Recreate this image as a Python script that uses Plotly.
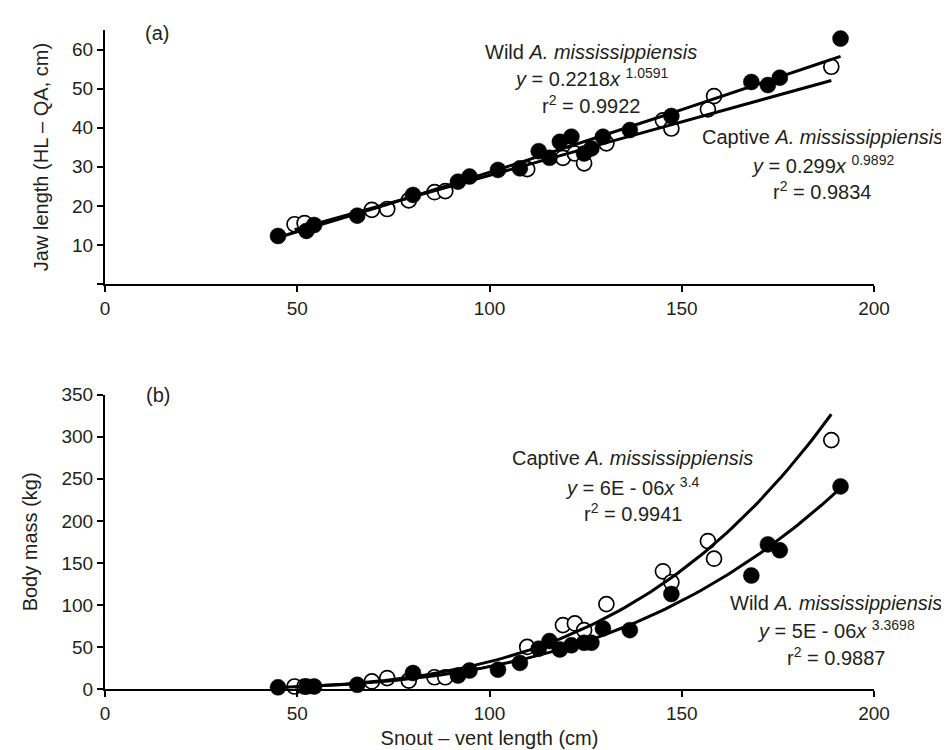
import numpy as np
import plotly.graph_objects as go
from plotly.subplots import make_subplots

# Snout-vent length (cm)
wild_svl = [45, 52.4, 54.4, 65.6, 80.1, 91.8, 94.8, 102.2, 107.9, 112.8, 115.6, 118.3,
            121.3, 124.6, 126.5, 129.5, 136.5, 147.3, 168.1, 172.4, 175.5, 191.3]
captive_svl = [49.3, 51.9, 69.4, 73.4, 79.0, 85.7, 88.5, 109.8, 119.1, 122.2, 124.6,
               130.4, 145.1, 147.3, 156.8, 158.4, 188.9]

# Jaw length (cm)
wild_jaw = [12.3, 13.6, 15.1, 17.5, 22.8, 26.2, 27.5, 29.2, 29.6, 34.0, 32.3, 36.4,
            37.7, 33.4, 34.7, 37.7, 39.4, 43.0, 51.7, 50.9, 52.8, 62.8]
captive_jaw = [15.3, 15.6, 19.0, 19.2, 21.4, 23.5, 23.8, 29.4, 32.3, 33.4, 30.9,
               36.0, 41.9, 39.8, 44.7, 48.1, 55.6]

# Body mass (kg)
wild_mass = [2, 3, 3, 5, 19, 16, 22, 23, 31, 48, 57, 47,
             52, 55, 55, 72, 70, 113, 135, 172, 165, 241]
captive_mass = [3, 3, 9, 13, 10, 14, 14, 50, 76, 78, 70,
                101, 140, 127, 176, 155, 296]

x_ticks = [0, 50, 100, 150, 200]
jaw_ticks = [0, 10, 20, 30, 40, 50, 60]
jaw_labels = ["", "10", "20", "30", "40", "50", "60"]
mass_ticks = [0, 50, 100, 150, 200, 250, 300, 350]


def power_fit(x, y):
    x = np.asarray(x, float)
    y = np.asarray(y, float)
    b, ln_a = np.polyfit(np.log(x), np.log(y), 1)
    xs = np.linspace(x.min(), x.max(), 120)
    return xs, np.exp(ln_a) * xs ** b


FONT = "Liberation Sans, Arial, sans-serif"
TXT = "#231f20"

fig = make_subplots(rows=2, cols=1, vertical_spacing=0.1685)
fig.update_layout(
    width=949, height=750,
    margin=dict(l=97, r=83, t=21, b=65),
    paper_bgcolor="white", plot_bgcolor="white",
    showlegend=False,
    font=dict(family=FONT, color=TXT, size=19),
)
fig.update_layout(
    yaxis=dict(domain=[0.6145, 1.0]),
    yaxis2=dict(domain=[0.0, 0.4465]),
)

open_marker = dict(symbol="circle", size=15, color="white", line=dict(color="black", width=1.7))
filled_marker = dict(symbol="circle", size=16, color="black", line=dict(color="black", width=0.5))

panels = [
    (1, wild_jaw, captive_jaw),
    (2, wild_mass, captive_mass),
]
for row, wy, cy in panels:
    fig.add_trace(go.Scatter(x=captive_svl, y=cy, mode="markers", marker=open_marker,
                             cliponaxis=False), row=row, col=1)
    fig.add_trace(go.Scatter(x=wild_svl, y=wy, mode="markers", marker=filled_marker,
                             cliponaxis=False), row=row, col=1)
    for xs_, ys_ in (power_fit(wild_svl, wy), power_fit(captive_svl, cy)):
        fig.add_trace(go.Scatter(x=xs_, y=ys_, mode="lines",
                                 line=dict(color="black", width=3),
                                 cliponaxis=False), row=row, col=1)

axis_common = dict(showgrid=False, zeroline=False, showline=True, linecolor="black",
                   linewidth=2, ticks="outside", ticklen=6, tickwidth=2, tickcolor="black",
                   tickfont=dict(family=FONT, size=19, color=TXT))

for r in (1, 2):
    fig.update_xaxes(range=[0, 200], tickvals=x_ticks, row=r, col=1, **axis_common)

fig.update_yaxes(range=[0, 65], tickvals=jaw_ticks, ticktext=jaw_labels, row=1, col=1,
                 title=dict(text="Jaw length (HL – QA, cm)", font=dict(size=20, family=FONT, color=TXT), standoff=18),
                 **axis_common)
fig.update_yaxes(range=[0, 350], tickvals=mass_ticks, row=2, col=1,
                 title=dict(text="Body mass (kg)", font=dict(size=20, family=FONT, color=TXT), standoff=18),
                 **axis_common)
fig.update_xaxes(title=dict(text="Snout – vent length (cm)", font=dict(size=20, family=FONT, color=TXT), standoff=8),
                 row=2, col=1)

ann = []


def add_block(xref, yref, x, ys, lines):
    for yy, t in zip(ys, lines):
        ann.append(dict(x=x, y=yy, xref=xref, yref=yref, text=t, showarrow=False,
                        xanchor="center", yanchor="middle",
                        font=dict(family=FONT, size=20, color=TXT)))


add_block("x", "y", 126.4, [59.4, 52.8, 46.0],
          ["Wild <i>A. mississippiensis</i>",
           "<i>y</i> = 0.2218<i>x</i> <sup>1.0591</sup>",
           "r<sup>2</sup> = 0.9922"])
add_block("x", "y", 186.5, [37.6, 30.7, 23.9],
          ["Captive <i>A. mississippiensis</i>",
           "<i>y</i> = 0.299<i>x</i> <sup>0.9892</sup>",
           "r<sup>2</sup> = 0.9834"])
add_block("x2", "y2", 137.3, [274.8, 241.4, 209.9],
          ["Captive <i>A. mississippiensis</i>",
           "<i>y</i> = 6E - 06<i>x</i> <sup>3.4</sup>",
           "r<sup>2</sup> = 0.9941"])
add_block("x2", "y2", 190.0, [102.2, 70.3, 38.5],
          ["Wild <i>A. mississippiensis</i>",
           "<i>y</i> = 5E - 06<i>x</i> <sup>3.3698</sup>",
           "r<sup>2</sup> = 0.9887"])
add_block("x", "y", 13.5, [64.2], ["(a)"])
add_block("x2", "y2", 13.8, [349.6], ["(b)"])

fig.update_layout(annotations=ann)
fig.write_html("out.html")
